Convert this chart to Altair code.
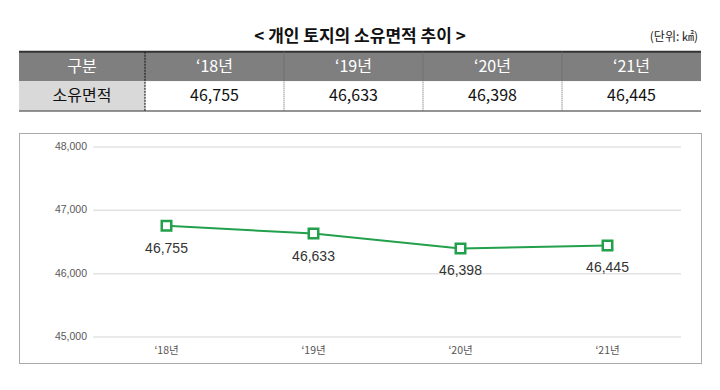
import altair as alt
import pandas as pd

# ---- data ----
years = ["\u201818년", "\u201819년", "\u201820년", "\u201821년"]
areas = [46755, 46633, 46398, 46445]
first_header = "구분"
row_label = "소유면적"
title_text = "< 개인 토지의 소유면적 추이 >"
unit_text = "(단위: ㎢)"
y_ticks = [45000, 46000, 47000, 48000]

GREEN = "#22a04b"
FONT = "Noto Sans CJK KR"

# ---- table ----
header_texts = [first_header] + years
data_texts = [row_label] + [f"{v:,}" for v in areas]
ncol = len(header_texts)

cells = []
for i, t in enumerate(header_texts):
    cells.append({"c0": i, "c1": i + 1, "r0": 1, "r1": 2, "text": t,
                  "fill": "#7f7f7f", "tc": "#ffffff"})
for i, t in enumerate(data_texts):
    cells.append({"c0": i, "c1": i + 1, "r0": 2, "r1": 3, "text": t,
                  "fill": "#d9d9d9" if i == 0 else "#ffffff", "tc": "#111111"})
cells_df = pd.DataFrame(cells)
cells_df["cx"] = (cells_df["c0"] + cells_df["c1"]) / 2
cells_df["cy"] = (cells_df["r0"] + cells_df["r1"]) / 2

TW, TH = 682, 89
xs = alt.Scale(domain=[0, 1, ncol], range=[0, 126, TW])
ys = alt.Scale(domain=[0, 3], range=[0, TH])

base_t = alt.Chart(cells_df)
rects = base_t.mark_rect(strokeWidth=0).encode(
    x=alt.X("c0:Q", scale=xs, axis=None),
    x2="c1:Q",
    y=alt.Y("r0:Q", scale=ys, axis=None),
    y2="r1:Q",
    fill=alt.Fill("fill:N", scale=None),
)
cell_text = base_t.mark_text(font=FONT, fontSize=16, baseline="middle").encode(
    x=alt.X("cx:Q", scale=xs, axis=None),
    y=alt.Y("cy:Q", scale=ys, axis=None),
    text="text:N",
    color=alt.Color("tc:N", scale=None),
)

hlines_df = pd.DataFrame({"x0": [0, 0], "x1": [ncol, ncol], "y": [1, 3],
                          "w": [2.0, 1.5], "col": ["#333333", "#707070"]})
hlines = alt.Chart(hlines_df).mark_rule().encode(
    x=alt.X("x0:Q", scale=xs, axis=None), x2="x1:Q",
    y=alt.Y("y:Q", scale=ys, axis=None),
    strokeWidth=alt.StrokeWidth("w:Q", scale=None),
    color=alt.Color("col:N", scale=None),
)
vl_df = pd.DataFrame({"x": list(range(1, ncol)), "y0": 1, "y1": 3})
vlines_first = alt.Chart(vl_df[vl_df["x"] == 1]).mark_rule(
    color="#222222", strokeWidth=1.2, strokeDash=[2, 1]).encode(
    x=alt.X("x:Q", scale=xs, axis=None),
    y=alt.Y("y0:Q", scale=ys, axis=None), y2="y1:Q")
vlines_rest = alt.Chart(vl_df[vl_df["x"] > 1]).mark_rule(
    color="#666666", strokeWidth=1, strokeDash=[1, 1]).encode(
    x=alt.X("x:Q", scale=xs, axis=None),
    y=alt.Y("y0:Q", scale=ys, axis=None), y2="y1:Q")

title_df = pd.DataFrame({"t": [title_text], "y": [0.5]})
title_mark = alt.Chart(title_df).mark_text(
    font=FONT, fontSize=17, fontWeight="bold", color="#111111", baseline="middle").encode(
    x=alt.value({"expr": "width/2"}),
    y=alt.Y("y:Q", scale=ys, axis=None),
    text="t:N",
)
unit_df = pd.DataFrame({"t": [unit_text], "x": [ncol], "y": [0.5]})
unit_mark = alt.Chart(unit_df).mark_text(
    font=FONT, fontSize=12, color="#222222", align="right", baseline="middle", dx=-3).encode(
    x=alt.X("x:Q", scale=xs, axis=None),
    y=alt.Y("y:Q", scale=ys, axis=None),
    text="t:N",
)

table = alt.layer(rects, hlines, vlines_first, vlines_rest, cell_text, title_mark, unit_mark).properties(
    width=TW, height=TH, view=alt.ViewBackground(stroke=None))

# ---- line chart ----
LW, LH = 682, 230
n = len(years)
lx = alt.Scale(domain=[-0.5, n - 0.5], range=[74, 662], nice=False, zero=False)
ly = alt.Scale(domain=[min(y_ticks), max(y_ticks)], range=[204, 14], nice=False, zero=False)

line_df = pd.DataFrame({"idx": list(range(n)), "year": years, "area": areas})
tick_df = pd.DataFrame({"tick": y_ticks, "x0": -0.5, "x1": n - 0.5})

grid = alt.Chart(tick_df).mark_rule(color="#e3e3e3", strokeWidth=1.5).encode(
    x=alt.X("x0:Q", scale=lx, axis=None), x2="x1:Q",
    y=alt.Y("tick:Q", scale=ly, axis=None),
)
ylabels = alt.Chart(tick_df).mark_text(
    font="Liberation Sans", fontSize=10.5, color="#595959", align="right", baseline="middle", dx=-6).encode(
    x=alt.X("x0:Q", scale=lx, axis=None),
    y=alt.Y("tick:Q", scale=ly, axis=None),
    text=alt.Text("tick:Q", format=","),
)
line = alt.Chart(line_df).mark_line(color=GREEN, strokeWidth=2).encode(
    x=alt.X("idx:Q", scale=lx, axis=None),
    y=alt.Y("area:Q", scale=ly, axis=None),
)
pts = alt.Chart(line_df).mark_point(
    shape="square", filled=True, fill="white", stroke=GREEN, strokeWidth=2.5, size=90, opacity=1).encode(
    x=alt.X("idx:Q", scale=lx, axis=None),
    y=alt.Y("area:Q", scale=ly, axis=None),
)
vlabels = alt.Chart(line_df).mark_text(
    font="Liberation Sans", fontSize=14, color="#333333", baseline="middle", dy=23).encode(
    x=alt.X("idx:Q", scale=lx, axis=None),
    y=alt.Y("area:Q", scale=ly, axis=None),
    text=alt.Text("area:Q", format=","),
)
xlab_df = pd.DataFrame({"idx": list(range(n)), "year": years, "base": min(y_ticks)})
xlabels = alt.Chart(xlab_df).mark_text(
    font=FONT, fontSize=10.5, color="#555555", baseline="middle", dy=14).encode(
    x=alt.X("idx:Q", scale=lx, axis=None),
    y=alt.Y("base:Q", scale=ly, axis=None),
    text="year:N",
)

linechart = alt.layer(grid, ylabels, line, pts, vlabels, xlabels).properties(
    width=LW, height=LH,
    view=alt.ViewBackground(stroke="#555555", strokeWidth=1, strokeDash=[1, 1]))

chart = alt.vconcat(table, linechart, spacing=22, bounds="flush").properties(
    padding={"left": 10, "top": 14, "right": 10, "bottom": 5},
    background="white",
).configure_view(stroke=None)

chart.save("out.html", embed_options={"renderer": "svg", "actions": False})
